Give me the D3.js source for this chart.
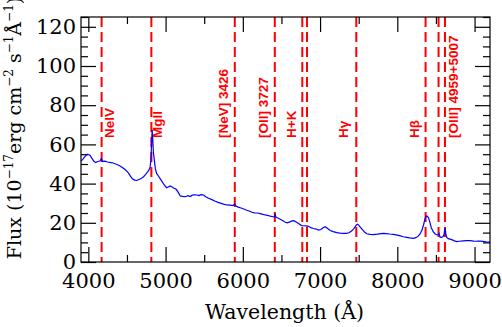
<!DOCTYPE html>
<html>
<head>
<meta charset="utf-8">
<script src="https://cdn.jsdelivr.net/npm/d3@7"></script>
<style>
  body { margin: 0; background: #fff; }
  svg { display: block; }
  .axis path { display: none; }
  .axis line { stroke: #000; stroke-width: 1.2; }
  .axis text { font-family: "DejaVu Serif", serif; font-size: 21px; fill: #000; }
  .title { font-family: "DejaVu Serif", serif; font-size: 19px; fill: #000; }
  .line-label { font-family: "Liberation Sans", Arial, sans-serif; font-weight: bold; font-size: 13.5px; fill: #ff0000; }
</style>
</head>
<body>
<svg width="502" height="327"></svg>
<script>
const wavelength = [
  3905, 3930, 3960, 3990, 4020, 4045, 4070, 4095, 4120, 4150, 4170, 4185, 4210, 4250, 4280, 4320,
  4345, 4380, 4410, 4440, 4475, 4500, 4520, 4545, 4570, 4600, 4625, 4655, 4690, 4715, 4740, 4765,
  4785, 4800, 4810, 4818, 4826, 4834, 4842, 4854, 4868, 4884, 4905, 4927, 4955, 4983, 5013, 5035,
  5057, 5085, 5110, 5135, 5164, 5190, 5220, 5255, 5290, 5320, 5345, 5375, 5406, 5430, 5460, 5492,
  5520, 5557, 5600, 5643, 5680, 5720, 5750, 5790, 5837, 5870, 5895, 5910, 5940, 5966, 5988, 6020,
  6053, 6090, 6118, 6150, 6190, 6225, 6260, 6290, 6330, 6355, 6390, 6410, 6418, 6430, 6460, 6484,
  6520, 6550, 6575, 6610, 6640, 6660, 6690, 6721, 6760, 6790, 6820, 6850, 6880, 6915, 6950, 6980,
  7010, 7040, 7066, 7090, 7131, 7170, 7217, 7260, 7300, 7340, 7375, 7411, 7440, 7470, 7484, 7500,
  7520, 7545, 7575, 7605, 7650, 7691, 7740, 7790, 7820, 7860, 7900, 7950, 8000, 8040, 8079, 8120,
  8160, 8208, 8240, 8270, 8295, 8320, 8340, 8360, 8375, 8390, 8405, 8420, 8440, 8467, 8490, 8511,
  8530, 8540, 8552, 8570, 8590, 8605, 8618, 8628, 8640, 8660, 8704, 8740, 8769, 8800, 8855, 8900,
  8942, 8990, 9030, 9071, 9110, 9150, 9200
];
const flux = [
  51.5, 52.5, 54.0, 55.0, 54.5, 53.0, 51.5, 50.7, 51.3, 51.5, 52.8, 51.3, 51.5, 51.0, 50.8, 50.5,
  50.1, 49.6, 49.0, 48.2, 47.2, 46.2, 45.3, 43.8, 42.5, 41.8, 41.6, 42.1, 42.7, 43.5, 44.6, 45.8,
  47.0, 48.5, 52.0, 60.0, 67.5, 63.0, 56.0, 52.0, 47.5, 45.2, 44.0, 42.7, 41.0, 39.3, 37.9, 38.3,
  38.8, 38.3, 37.6, 37.2, 35.5, 33.7, 33.5, 33.3, 33.8, 33.4, 34.1, 34.3, 34.2, 33.9, 34.4, 34.2,
  33.3, 32.5, 31.8, 31.0, 30.4, 29.9, 29.5, 29.1, 29.0, 28.8, 29.5, 28.6, 28.0, 27.7, 27.4, 26.9,
  26.4, 25.9, 25.4, 25.1, 25.0, 24.7, 24.3, 24.0, 23.7, 23.4, 23.1, 23.0, 24.2, 22.8, 22.3, 21.8,
  21.0, 20.3, 20.0, 20.5, 21.0, 21.1, 20.4, 19.6, 18.6, 18.5, 18.4, 18.2, 17.5, 17.1, 16.8, 16.3,
  16.6, 17.5, 18.0, 17.3, 16.1, 15.5, 15.0, 14.7, 14.6, 14.6, 14.9, 15.9, 17.2, 18.9, 19.3, 18.8,
  17.8, 16.6, 15.3, 14.4, 14.1, 14.0, 14.2, 14.5, 14.6, 14.5, 14.3, 14.1, 13.7, 13.3, 12.9, 12.6,
  12.3, 12.1, 12.4, 13.2, 14.3, 16.3, 19.0, 22.2, 23.5, 23.3, 22.5, 20.5, 17.5, 15.3, 14.3, 13.8,
  14.0, 14.6, 12.8, 12.6, 12.9, 14.0, 17.4, 14.5, 12.5, 11.9, 11.4, 10.8, 10.4, 10.6, 10.8, 10.9,
  10.9, 10.7, 10.6, 10.6, 10.5, 10.3, 10.1
];

// emission lines (observed wavelength) and their labels
const lineWave = [4172, 4816, 5896, 6414, 6770, 6831, 7469, 8366, 8534, 8617];
const labelText = ["NeIV", "MgII", "[NeV] 3426", "[OII] 3727", "H+K", "H\u03b3", "H\u03b2", "[OIII] 4959+5007"];
const labelWave = [4172, 4816, 5896, 6414, 6770, 7469, 8366, 8617];

const xMajor = [4000, 5000, 6000, 7000, 8000, 9000];
const xMinor = [4500, 5500, 6500, 7500, 8500];
const yMajor = [0, 20, 40, 60, 80, 100, 120];
const yMinor = d3.range(5, 126, 5).filter(v => v % 20 !== 0);

const svg = d3.select("svg");
const width = +svg.attr("width");
const height = +svg.attr("height");
const margin = { top: 17, right: 12, bottom: 65, left: 81 };
const innerWidth = width - margin.left - margin.right;
const innerHeight = height - margin.top - margin.bottom;

const xScale = d3.scaleLinear().domain([3905, 9200]).range([0, innerWidth]);
const yScale = d3.scaleLinear().domain([0, 125]).range([innerHeight, 0]);

const g = svg.append("g").attr("transform", `translate(${margin.left},${margin.top})`);

// ticks on all four sides, pointing inward
const addAxis = (gen, values, size, labels, transform, pad) => {
  const a = g.append("g").attr("class", "axis").attr("transform", transform)
    .call(gen.tickValues(values).tickSize(-size).tickSizeOuter(0).tickPadding(pad)
      .tickFormat(labels ? d3.format("d") : ""));
  return a;
};
addAxis(d3.axisBottom(xScale), xMajor, 15, true, `translate(0,${innerHeight})`, 11);
addAxis(d3.axisBottom(xScale), xMinor, 7, false, `translate(0,${innerHeight})`, 0);
addAxis(d3.axisTop(xScale), xMajor, 15, false, "", 0);
addAxis(d3.axisTop(xScale), xMinor, 7, false, "", 0);
addAxis(d3.axisLeft(yScale), yMajor, 15, true, "", 5);
addAxis(d3.axisLeft(yScale), yMinor, 7, false, "", 0);
addAxis(d3.axisRight(yScale), yMajor, 15, false, `translate(${innerWidth},0)`, 0);
addAxis(d3.axisRight(yScale), yMinor, 7, false, `translate(${innerWidth},0)`, 0);

// red dashed line markers
g.selectAll(".marker").data(lineWave).enter().append("line")
  .attr("class", "marker")
  .attr("x1", d => xScale(d)).attr("x2", d => xScale(d))
  .attr("y1", 0).attr("y2", innerHeight)
  .attr("stroke", "#ff0000").attr("stroke-width", 2)
  .attr("stroke-dasharray", "10,5");

// spectrum
const spec = wavelength.map((w, i) => ({ w, f: flux[i] }));
const line = d3.line().x(d => xScale(d.w)).y(d => yScale(d.f));
g.append("path").datum(spec)
  .attr("d", line)
  .attr("fill", "none")
  .attr("stroke", "#0000ff")
  .attr("stroke-width", 1.2);

// line labels, rotated, bottom end at a fixed height
const labelDx = [12, 11, -7, -7, -6, -8, -7, 13];
g.selectAll(".line-label").data(labelText).enter().append("text")
  .attr("class", "line-label")
  .attr("transform", (d, i) => `translate(${xScale(labelWave[i]) + labelDx[i]},${yScale(63.3)}) rotate(-90)`)
  .text(d => d);

// frame
g.append("rect")
  .attr("width", innerWidth).attr("height", innerHeight)
  .attr("fill", "none").attr("stroke", "#000").attr("stroke-width", 1.2);

// axis titles
svg.append("text").attr("class", "title")
  .attr("x", margin.left + innerWidth / 2 - 1).attr("y", 319)
  .attr("text-anchor", "middle")
  .style("font-size", "20.5px")
  .text("Wavelength (\u00c5)");

const yt = svg.append("text").attr("class", "title")
  .attr("transform", "translate(21,128) rotate(-90)")
  .attr("text-anchor", "middle");
const parts = [
  ["Flux (10", 0], ["\u221217", 1], ["erg cm", 0], ["\u22122", 1], [" s", 0],
  ["\u22121", 1], ["\u00c5", 0], ["\u22121", 1], [")", 0]
];
let raised = false;
parts.forEach(([t, sup]) => {
  const dy = sup && !raised ? -8 : (!sup && raised ? 8 : 0);
  raised = !!sup;
  yt.append("tspan").attr("dy", dy).attr("font-size", sup ? 12 : null).text(t);
});
</script>
</body>
</html>
